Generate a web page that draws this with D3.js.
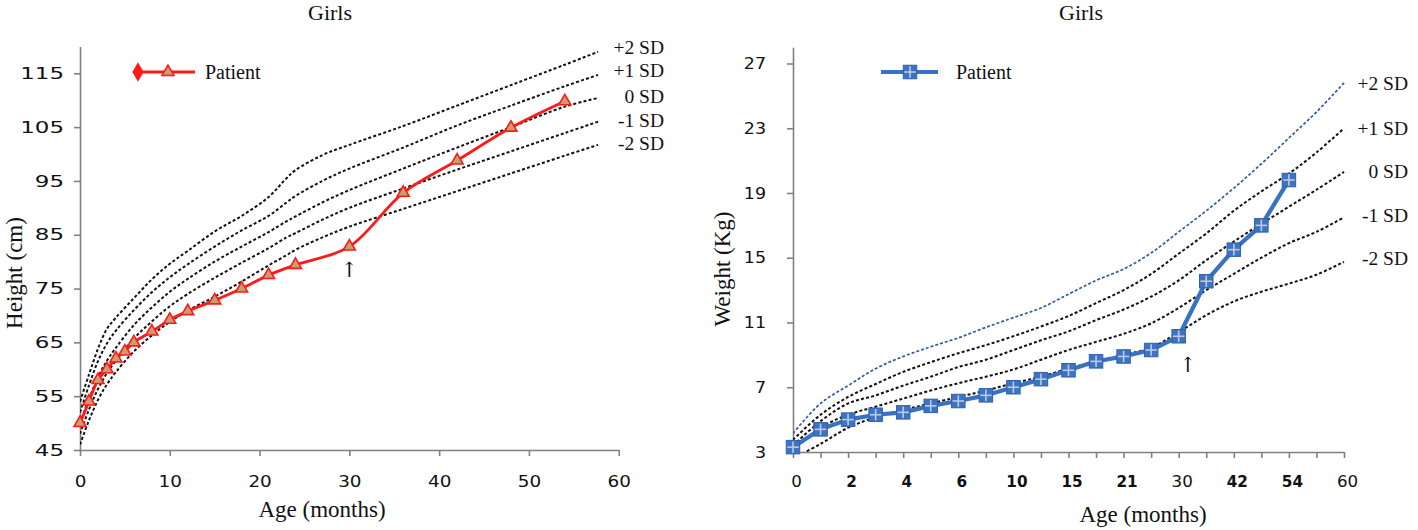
<!DOCTYPE html>
<html><head><meta charset="utf-8">
<script src="https://cdn.jsdelivr.net/npm/d3@7"></script>
<style>body{margin:0;background:#fff}svg{display:block}</style>
</head><body>
<svg id="c" width="1418" height="530"></svg>
<script>
// ---------- Left chart data (height) ----------
const hRefAges = [0, 1, 2, 3, 4, 6, 8, 10, 12, 15, 18, 21, 23, 24, 27, 30, 36, 42, 48, 54, 57.7];
const hSDp2 = [54, 59, 63.8, 67.5, 69.6, 73.2, 76.7, 79.6, 82.0, 85.6, 88.5, 92.0, 95.5, 97.0, 99.8, 101.7, 105.2, 109.0, 112.8, 116.6, 119.0];
const hSDp1 = [52, 57, 61.5, 64.8, 67.2, 71.0, 74.3, 77.1, 79.5, 82.8, 85.8, 88.5, 91.0, 92.2, 95.0, 97.3, 101.2, 105.3, 109.0, 112.6, 114.7];
const hSD0  = [50, 54.5, 58.5, 61.6, 64.0, 68.2, 71.5, 74.4, 76.8, 80.0, 82.8, 85.5, 87.5, 88.4, 91.0, 93.3, 97.3, 101.2, 105.0, 108.8, 110.4];
const hSDm1 = [48, 52.5, 56.3, 59.3, 61.6, 65.7, 68.9, 71.7, 74.0, 77.0, 79.8, 82.5, 84.5, 85.3, 87.8, 90.0, 93.6, 97.1, 100.5, 103.9, 106.0];
const hSDm2 = [46, 50.5, 54.3, 57.2, 59.5, 63.3, 66.3, 68.8, 70.9, 73.5, 76.3, 79.3, 81.2, 82.2, 84.5, 86.5, 89.8, 93.1, 96.4, 99.7, 101.7];
const hPatientAges = [0, 1, 2, 3, 4, 5, 6, 8, 10, 12, 15, 18, 21, 24, 30, 36, 42, 48, 54];
const hPatient = [50, 54, 58, 60, 62, 63.3, 65, 67, 69.2, 70.8, 72.8, 75, 77.5, 79.4, 82.8, 92.8, 98.8, 104.9, 109.8];
const hXTicks = [0, 10, 20, 30, 40, 50, 60];
const hYTicks = [45, 55, 65, 75, 85, 95, 105, 115];

// ---------- Right chart data (weight) ----------
const wCategories = ["0","1","2","3","4","5","6","8","10","12","15","18","21","24","30","36","42","48","54","57","60"];
const wTickLabels = ["0","","2","","4","","6","","10","","15","","21","","30","","42","","54","","60"];
const wBoldLabels = ["2","4","6","10","15","21","42","54"];
const wSDp2 = [4.15, 6.0, 7.1, 8.15, 8.9, 9.5, 10.05, 10.7, 11.3, 11.9, 12.75, 13.6, 14.3, 15.3, 16.6, 17.9, 19.3, 20.8, 22.4, 24.0, 25.8];
const wSDp1 = [3.75, 5.3, 6.4, 7.2, 7.95, 8.55, 9.1, 9.6, 10.15, 10.75, 11.4, 12.2, 13.0, 14.0, 15.25, 16.5, 17.9, 19.1, 20.2, 21.5, 23.0];
const wSD0  = [3.4, 4.9, 6.0, 6.5, 7.1, 7.65, 8.25, 8.7, 9.3, 9.9, 10.45, 11.15, 11.8, 12.6, 13.6, 14.85, 16.0, 17.1, 18.15, 19.2, 20.3];
const wSDm1 = [3.1, 4.5, 5.3, 5.8, 6.3, 6.8, 7.25, 7.65, 8.1, 8.7, 9.3, 9.8, 10.3, 10.95, 11.9, 13.0, 14.0, 15.0, 15.9, 16.6, 17.5];
const wSDm2 = [2.6, 3.5, 4.5, 5.15, 5.6, 6.0, 6.4, 6.8, 7.25, 7.65, 8.15, 8.6, 9.0, 9.45, 10.4, 11.45, 12.3, 12.9, 13.4, 13.95, 14.75];
const wPatient = [3.3, 4.4, 5.0, 5.3, 5.45, 5.85, 6.15, 6.5, 7.0, 7.5, 8.05, 8.6, 8.9, 9.3, 10.15, 13.55, 15.5, 17.0, 19.8];
const wYTicks = [3, 7, 11, 15, 19, 23, 27];

const sdLabels = ["+2 SD", "+1 SD", "0 SD", "-1 SD", "-2 SD"];

const svg = d3.select("#c");
const SERIF = "'Liberation Serif','Times New Roman',serif";
const SANS = "'DejaVu Sans',Verdana,sans-serif";
const AXC = "#808080";

const defs = svg.append("defs");
defs.append("clipPath").attr("id","clipL").append("rect").attr("x",80).attr("y",40).attr("width",560).attr("height",410);
defs.append("clipPath").attr("id","clipR").append("rect").attr("x",793).attr("y",40).attr("width",560).attr("height",412);

function styleAxis(g, digitW){
  g.select(".domain").attr("stroke", AXC).attr("stroke-width", 1.6);
  g.selectAll(".tick line").attr("stroke", AXC).attr("stroke-width", 1.6);
  g.selectAll(".tick text").attr("fill", "#111").attr("font-family", SANS).attr("font-size", 16)
    .each(function(){ const t = this.textContent; if (t.length) d3.select(this).attr("textLength", t.length*digitW).attr("lengthAdjust","spacingAndGlyphs"); });
}

// ================= LEFT CHART =================
const xL = d3.scaleLinear().domain([0, 60]).range([80, 618.7]);
const yL = d3.scaleLinear().domain([45, 120]).range([450, 46.4]);

const gxL = svg.append("g").attr("transform","translate(0,450)")
  .call(d3.axisBottom(xL).tickValues(hXTicks).tickSizeInner(6).tickSizeOuter(0).tickPadding(20));
styleAxis(gxL, 11.7);
const gyL = svg.append("g").attr("transform","translate(80,0)")
  .call(d3.axisLeft(yL).tickValues(hYTicks).tickSizeInner(6).tickSizeOuter(0).tickPadding(10));
styleAxis(gyL, 14.6);

const lineL = d3.line().x(d=>xL(d[0])).y(d=>yL(d[1])).curve(d3.curveCatmullRom.alpha(0.5));
const hSets = [hSDp2, hSDp1, hSD0, hSDm1, hSDm2];
const gL = svg.append("g").attr("clip-path","url(#clipL)");
hSets.forEach(arr=>{
  gL.append("path").attr("d", lineL(hRefAges.map((a,i)=>[a, arr[i]])))
    .attr("fill","none").attr("stroke","#111").attr("stroke-width",2).attr("stroke-dasharray","3,2.2");
});
svg.append("path").attr("d", lineL(hPatientAges.map((a,i)=>[a, hPatient[i]])))
  .attr("fill","none").attr("stroke","#ff1a1a").attr("stroke-width",2.8);
const tri = d3.symbol().type(d3.symbolTriangle).size(62);
svg.append("g").selectAll("path").data(hPatientAges.map((a,i)=>[a,hPatient[i]])).join("path")
  .attr("d", tri).attr("transform", d=>`translate(${xL(d[0])},${yL(d[1])})`)
  .attr("fill","#c4a070").attr("stroke","#ff1a1a").attr("stroke-width",1.6);

// SD labels left
const sdLeftY = [54, 77, 103, 127, 150];
sdLabels.forEach((t,i)=>{
  svg.append("text").attr("x",664).attr("y",sdLeftY[i]).attr("text-anchor","end")
    .attr("font-family",SERIF).attr("font-size",19.5).attr("fill","#111").text(t);
});
// legend left
svg.append("line").attr("x1",138).attr("x2",195).attr("y1",72).attr("y2",72).attr("stroke","#ff1a1a").attr("stroke-width",2.8);
svg.append("path").attr("d", d3.symbol().type(d3.symbolDiamond).size(110)).attr("transform","translate(138,72)").attr("fill","#ff1a1a");
svg.append("path").attr("d", tri).attr("transform","translate(168,72)").attr("fill","#c4a070").attr("stroke","#ff1a1a").attr("stroke-width",1.6);
svg.append("text").attr("x",205).attr("y",79).attr("font-family",SERIF).attr("font-size",20).attr("fill","#111").text("Patient");
// titles
svg.append("text").attr("x",330).attr("y",20).attr("text-anchor","middle").attr("font-family",SERIF).attr("font-size",22).attr("fill","#111").text("Girls");
svg.append("text").attr("x",322).attr("y",517).attr("text-anchor","middle").attr("font-family",SERIF).attr("font-size",23).attr("fill","#111").text("Age (months)");
svg.append("text").attr("transform","translate(22,273) rotate(-90)").attr("text-anchor","middle").attr("font-family",SERIF).attr("font-size",23).attr("fill","#111").text("Height (cm)");
svg.append("text").attr("x", xL(30)).attr("y",277).attr("text-anchor","middle").attr("font-family","'DejaVu Serif',serif").attr("font-size",21).attr("fill","#111").text("↑");

// ================= RIGHT CHART =================
const xR = d3.scaleLinear().domain([0, wCategories.length-1]).range([793, 1344]);
const yR = d3.scaleLinear().domain([3, 28]).range([452, 47.3]);

const gxR = svg.append("g").attr("transform","translate(0,452)")
  .call(d3.axisBottom(xR).tickValues(d3.range(wCategories.length)).tickFormat(i=>wTickLabels[i]).tickSizeInner(6).tickSizeOuter(0).tickPadding(18));
styleAxis(gxR, 10.6);
gxR.selectAll(".tick text").attr("dx", 3).attr("font-weight", d=> wBoldLabels.includes(wTickLabels[d]) ? "bold" : "normal");
const gyR = svg.append("g").attr("transform","translate(793,0)")
  .call(d3.axisLeft(yR).tickValues(wYTicks).tickSizeInner(6).tickSizeOuter(0).tickPadding(21));
styleAxis(gyR, 11.1);

const lineR = d3.line().x(d=>xR(d[0])).y(d=>yR(d[1])).curve(d3.curveCatmullRom.alpha(0.5));
const wSets = [wSDp2, wSDp1, wSD0, wSDm1, wSDm2];
const gR = svg.append("g").attr("clip-path","url(#clipR)");
wSets.forEach((arr,k)=>{
  gR.append("path").attr("d", lineR(arr.map((v,i)=>[i, v])))
    .attr("fill","none").attr("stroke", k===0 ? "#2f5d9e" : "#111")
    .attr("stroke-width", k===0 ? 1.7 : 2).attr("stroke-dasharray", k===0 ? "3,2" : "3,2.2");
});
const lineRP = d3.line().x(d=>xR(d[0])).y(d=>yR(d[1]));
svg.append("path").attr("d", lineRP(wPatient.map((v,i)=>[i,v])))
  .attr("fill","none").attr("stroke","#3a72c2").attr("stroke-width",4.2).attr("stroke-linejoin","round");
function square(g, cx, cy){
  const s = 13.5;
  g.append("rect").attr("x",cx-s/2).attr("y",cy-s/2).attr("width",s).attr("height",s)
    .attr("fill","#3f73bf").attr("stroke","#2e62b0").attr("stroke-width",1);
  g.append("line").attr("x1",cx).attr("x2",cx).attr("y1",cy-s/2+1).attr("y2",cy+s/2-1).attr("stroke","#b7cbe8").attr("stroke-width",1.6);
  g.append("line").attr("y1",cy).attr("y2",cy).attr("x1",cx-s/2+1).attr("x2",cx+s/2-1).attr("stroke","#b7cbe8").attr("stroke-width",1.6);
}
const gSq = svg.append("g");
wPatient.forEach((v,i)=> square(gSq, xR(i), yR(v)));

// SD labels right
const sdRightY = [90, 135, 178, 222, 265];
sdLabels.forEach((t,i)=>{
  svg.append("text").attr("x",1408).attr("y",sdRightY[i]).attr("text-anchor","end")
    .attr("font-family",SERIF).attr("font-size",19.5).attr("fill","#111").text(t);
});
// legend right
svg.append("line").attr("x1",881).attr("x2",938).attr("y1",72).attr("y2",72).attr("stroke","#3a72c2").attr("stroke-width",4.2);
square(svg.append("g"), 910, 72);
svg.append("text").attr("x",956).attr("y",79).attr("font-family",SERIF).attr("font-size",20).attr("fill","#111").text("Patient");
// titles
svg.append("text").attr("x",1081).attr("y",20).attr("text-anchor","middle").attr("font-family",SERIF).attr("font-size",22).attr("fill","#111").text("Girls");
svg.append("text").attr("x",1143).attr("y",522).attr("text-anchor","middle").attr("font-family",SERIF).attr("font-size",23).attr("fill","#111").text("Age (months)");
svg.append("text").attr("transform","translate(730,269) rotate(-90)").attr("text-anchor","middle").attr("font-family",SERIF).attr("font-size",23).attr("fill","#111").text("Weight (Kg)");
svg.append("text").attr("x", xR(14)+9).attr("y",372).attr("text-anchor","middle").attr("font-family","'DejaVu Serif',serif").attr("font-size",21).attr("fill","#111").text("↑");
</script>
</body></html>
